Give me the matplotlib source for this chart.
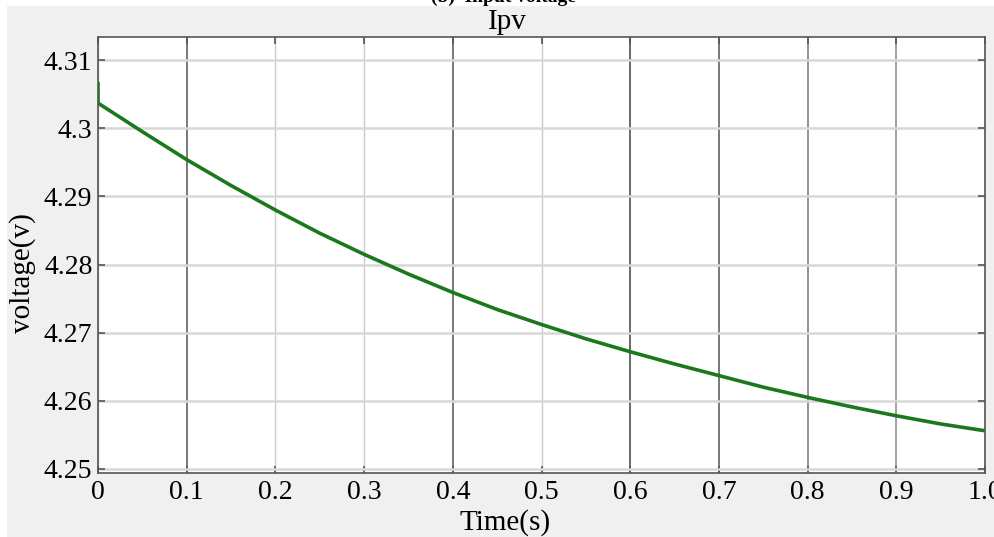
import matplotlib
matplotlib.use("Agg")
import matplotlib.pyplot as plt
from matplotlib.patches import Rectangle

# PV-side voltage trace (time in s, voltage in V)
time_s = [0.0, 0.0, 0.05, 0.10, 0.15, 0.20, 0.25, 0.30, 0.35, 0.40, 0.45, 0.50,
          0.55, 0.60, 0.65, 0.70, 0.75, 0.80, 0.85, 0.90, 0.95, 1.00]
voltage = [4.3068, 4.3037, 4.2995, 4.2954, 4.2916, 4.2880, 4.2846, 4.2815, 4.2786,
           4.2759, 4.2734, 4.2712, 4.2691, 4.2672, 4.2654, 4.2637, 4.2620, 4.2605,
           4.2591, 4.2578, 4.2566, 4.2556]

x_ticks = [0.0, 0.1, 0.2, 0.3, 0.4, 0.5, 0.6, 0.7, 0.8, 0.9, 1.0]
x_tick_labels = ["0", "0.1", "0.2", "0.3", "0.4", "0.5", "0.6", "0.7", "0.8", "0.9", "1.0"]
y_ticks = [4.25, 4.26, 4.27, 4.28, 4.29, 4.30, 4.31]
y_tick_labels = ["4.25", "4.26", "4.27", "4.28", "4.29", "4.3", "4.31"]

title = "Ipv"
caption = "(b)  Input voltage"
x_label = "Time(s)"
y_label = "voltage(v)"

SERIF = ["Liberation Serif", "DejaVu Serif"]
plt.rcParams["font.family"] = SERIF

W, H = 994, 537
fig = plt.figure(figsize=(W / 100, H / 100), dpi=100, facecolor="white")

# grey panel behind the plot
fig.patches.append(Rectangle((7 / W, 0), 1 - 7 / W, 1 - 6 / H,
                             transform=fig.transFigure, facecolor="#f0f0f0",
                             edgecolor="none", zorder=-10))

left, right, top, bottom = 98, 985, 37, 473
ax = fig.add_axes([left / W, 1 - bottom / H, (right - left) / W, (bottom - top) / H])
ax.set_zorder(1)
ax.set_facecolor("white")

ax.plot(time_s, voltage, color="#1c781c", linewidth=2.6, zorder=3,
        solid_capstyle="butt", solid_joinstyle="round")

ax.set_xlim(0, 1.0)
ax.set_ylim(4.2494, 4.3134)
ax.set_xticks(x_ticks)
ax.set_xticklabels(x_tick_labels)
ax.set_yticks(y_ticks)
ax.set_yticklabels(y_tick_labels)

ax.tick_params(axis="both", direction="in", length=5, width=1.2, color="#555555",
               labelsize=20, top=True, right=True)
ax.tick_params(axis="x", pad=5)
ax.tick_params(axis="y", pad=4)

ax.grid(True, axis="y", color="#d8d8d8", linewidth=1.8)
ax.grid(True, axis="x", color="#cacaca", linewidth=1.0)
ax.set_axisbelow(True)

# stronger vertical guides at a few time marks
strong = {0.1: "#6e6e6e", 0.4: "#6e6e6e", 0.6: "#5e5e5e", 0.7: "#6e6e6e",
          0.8: "#8a8a8a", 0.9: "#9a9a9a"}
for tick_val, gl in zip(x_ticks, ax.xaxis.get_gridlines()):
    key = round(tick_val, 1)
    if key in strong:
        gl.set_color(strong[key])
        gl.set_linewidth(1.3)

for sp in ax.spines.values():
    sp.set_color("#555555")
    sp.set_linewidth(1.2)

fig.text(507 / W, 1 - 29 / H, title, ha="center", va="baseline", fontsize=21)
fig.text(505 / W, 1 - 530 / H, x_label, ha="center", va="baseline", fontsize=21)
fig.text(23 / W, 1 - 273 / H, y_label, ha="center", va="center", rotation=90,
         fontsize=21)
fig.text(503 / W, 1 - 2 / H, caption, ha="center", va="baseline", fontsize=14,
         fontweight="bold")

fig.savefig("out.png", dpi=100, facecolor="white")
